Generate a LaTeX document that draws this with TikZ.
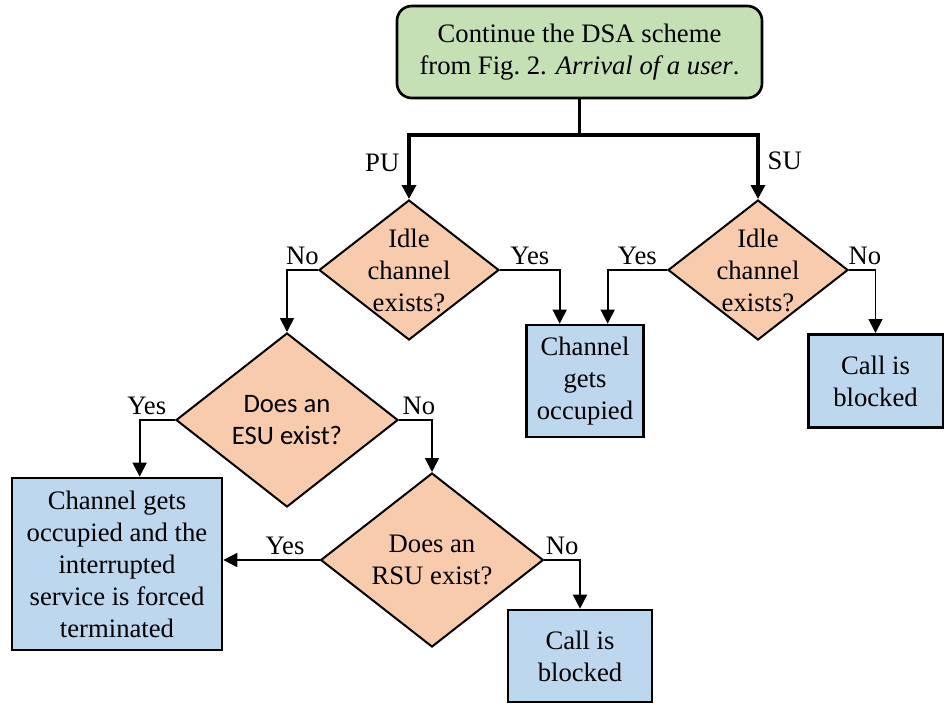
\documentclass[tikz,border=0pt]{standalone}
\usepackage{fontspec}
\setmainfont{Liberation Serif}
\newfontfamily\calibfont{Carlito}
\usetikzlibrary{arrows.meta,shapes.geometric}
\definecolor{startgreen}{RGB}{197,224,180}
\definecolor{procblue}{RGB}{189,215,238}
\definecolor{decorange}{RGB}{248,203,173}
\begin{document}
\begin{tikzpicture}[x=0.75pt,y=0.75pt,
  every node/.style={font=\fontsize{20}{24}\selectfont},
  startbox/.style={draw, line width=2pt, rounded corners=11pt, fill=startgreen, minimum width=273.75pt, minimum height=69pt, align=center, inner sep=0pt},
  procbox/.style={draw, line width=2pt, fill=procblue, align=center, inner sep=0pt},
  decision/.style={diamond, draw, line width=1.5pt, fill=decorange, inner sep=0pt, aspect=1},
  dtext/.style={align=center, inner sep=0pt},
  tip/.style={-{Triangle[width=10.5pt,length=10.5pt]}},
  conn/.style={line width=1.3pt, tip},
  thickconn/.style={line width=2.6pt},
  lab/.style={above, inner sep=3pt}
]
\useasboundingbox (0,0) rectangle (945,-704);

% start
\node[startbox] (top) at (579.5,-52) {Continue the DSA scheme\\from Fig.~2. \textit{Arrival of a user}.};
\coordinate (split) at (579.5,-135);

% decisions
\node[decision, minimum width=135pt, minimum height=105pt] (d1) at (409,-270) {};
\node[dtext] at (d1) {Idle\\channel\\exists?};
\node[decision, minimum width=135pt, minimum height=105pt] (d2) at (758,-270) {};
\node[dtext] at (d2) {Idle\\channel\\exists?};
\node[decision, minimum width=166.5pt, minimum height=130.5pt] (d3) at (287,-420) {};
\node[dtext, font=\calibfont\fontsize{20}{24}\selectfont] at (d3) {Does an\\ESU exist?};
\node[decision, minimum width=167pt, minimum height=130.5pt] (d4) at (432,-560) {};
\node[dtext] at (d4) {Does an\\RSU exist?};

% process boxes
\node[procbox, minimum width=88pt, minimum height=84pt] (b1) at (585,-381) {Channel\\gets\\occupied};
\node[procbox, minimum width=101pt, minimum height=70pt] (b2) at (875.5,-381) {Call is\\blocked};
\node[procbox, minimum width=157.5pt, minimum height=129pt] (b3) at (117,-564) {Channel gets\\occupied and the\\interrupted\\service is forced\\terminated};
\node[procbox, minimum width=108pt, minimum height=69pt] (b4) at (580,-656) {Call is\\blocked};

% connectors
\draw[thickconn] (top.south) -- (split);
\draw[thickconn, tip] (split) -| node[pos=0.72, left, inner sep=6pt] {PU} (d1.north);
\draw[thickconn, tip] (split) -| node[pos=0.7, right, inner sep=6pt] {SU} (d2.north);

\draw[conn] (d1.west) -| node[lab, pos=0.25] {No} (d3.north);
\draw[conn] (d1.east) -| node[lab, pos=0.25] {Yes} ([xshift=-19pt]b1.north);
\draw[conn] (d2.west) -| node[lab, pos=0.25] {Yes} ([xshift=17pt]b1.north);
\draw[conn] (d2.east) -| node[lab, pos=0.3] {No} (b2.north);
\draw[conn] (d3.west) -| node[lab, pos=0.4] {Yes} ([xshift=17pt]b3.north);
\draw[conn] (d3.east) -| node[lab, pos=0.3] {No} (d4.north);
\draw[conn] (d4.west) -- node[lab, pos=0.36] {Yes} (b3.east |- d4.west);
\draw[conn] (d4.east) -| node[lab, pos=0.25] {No} (b4.north);
\end{tikzpicture}
\end{document}
